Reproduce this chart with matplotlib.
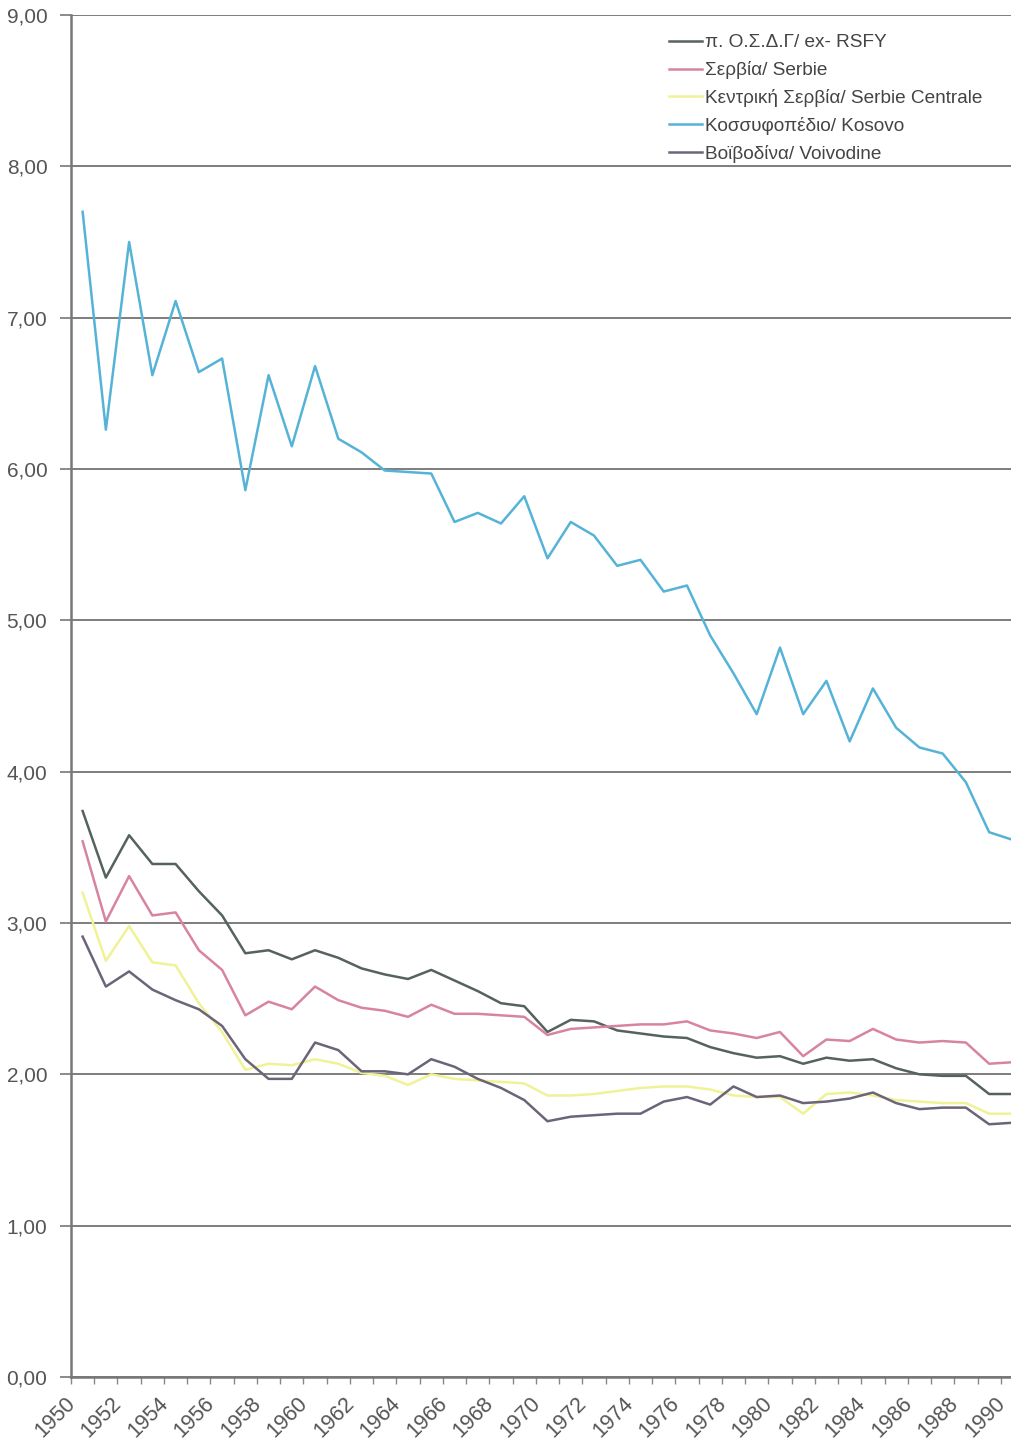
import matplotlib.pyplot as plt
from matplotlib.ticker import FixedLocator, FuncFormatter, NullFormatter
from matplotlib.transforms import blended_transform_factory, ScaledTranslation

# Total fertility rate by region, 1950-1990
years = list(range(1950, 1991))

rsfy = [3.74, 3.30, 3.58, 3.39, 3.39, 3.21, 3.05, 2.80, 2.82, 2.76,
        2.82, 2.77, 2.70, 2.66, 2.63, 2.69, 2.62, 2.55, 2.47, 2.45,
        2.28, 2.36, 2.35, 2.29, 2.27, 2.25, 2.24, 2.18, 2.14, 2.11,
        2.12, 2.07, 2.11, 2.09, 2.10, 2.04, 2.00, 1.99, 1.99, 1.87, 1.87]
serbia = [3.54, 3.01, 3.31, 3.05, 3.07, 2.82, 2.69, 2.39, 2.48, 2.43,
          2.58, 2.49, 2.44, 2.42, 2.38, 2.46, 2.40, 2.40, 2.39, 2.38,
          2.26, 2.30, 2.31, 2.32, 2.33, 2.33, 2.35, 2.29, 2.27, 2.24,
          2.28, 2.12, 2.23, 2.22, 2.30, 2.23, 2.21, 2.22, 2.21, 2.07, 2.08]
central = [3.20, 2.75, 2.98, 2.74, 2.72, 2.47, 2.28, 2.03, 2.07, 2.06,
           2.10, 2.07, 2.01, 1.99, 1.93, 2.00, 1.97, 1.96, 1.95, 1.94,
           1.86, 1.86, 1.87, 1.89, 1.91, 1.92, 1.92, 1.90, 1.86, 1.85,
           1.85, 1.74, 1.87, 1.88, 1.86, 1.83, 1.82, 1.81, 1.81, 1.74, 1.74]
kosovo = [7.70, 6.26, 7.50, 6.62, 7.11, 6.64, 6.73, 5.86, 6.62, 6.15,
          6.68, 6.20, 6.11, 5.99, 5.98, 5.97, 5.65, 5.71, 5.64, 5.82,
          5.41, 5.65, 5.56, 5.36, 5.40, 5.19, 5.23, 4.90, 4.65, 4.38,
          4.82, 4.38, 4.60, 4.20, 4.55, 4.29, 4.16, 4.12, 3.93, 3.60, 3.55]
vojvodina = [2.91, 2.58, 2.68, 2.56, 2.49, 2.43, 2.32, 2.10, 1.97, 1.97,
             2.21, 2.16, 2.02, 2.02, 2.00, 2.10, 2.05, 1.97, 1.91, 1.83,
             1.69, 1.72, 1.73, 1.74, 1.74, 1.82, 1.85, 1.80, 1.92, 1.85,
             1.86, 1.81, 1.82, 1.84, 1.88, 1.81, 1.77, 1.78, 1.78, 1.67, 1.68]

labels = ["π. Ο.Σ.Δ.Γ/ ex- RSFY", "Σερβία/ Serbie",
          "Κεντρική Σερβία/ Serbie Centrale", "Κοσσυφοπέδιο/ Kosovo",
          "Βοϊβοδίνα/ Voivodine"]
colors = ["#56625f", "#d8849f", "#f0f296", "#55b3d8", "#6c6479"]

plt.rcParams["font.family"] = ["Liberation Sans", "DejaVu Sans"]

fig = plt.figure(figsize=(10.12, 14.5), dpi=100)
# axes run slightly past the right edge, like the cropped original
ax = fig.add_axes([71 / 1012, 1 - 1377 / 1450, 953 / 1012, (1377 - 15) / 1450])

x = list(range(len(years)))
for series, lab, col in zip([rsfy, serbia, central, kosovo, vojvodina], labels, colors):
    ax.plot(x, series, color=col, lw=1.8, label=lab)

ax.set_xlim(-0.5, len(years) - 0.5)
ax.set_ylim(0, 9)

# y axis: gridlines at each integer, comma decimals
ax.yaxis.set_major_locator(FixedLocator(range(0, 10)))
ax.yaxis.set_major_formatter(FuncFormatter(lambda v, p: f"{v:.2f}".replace(".", ",")))
ax.yaxis.grid(True, color="#737373", lw=1.3)
ax.set_axisbelow(True)

# x axis: tick marks between categories, labels every second year
ax.xaxis.set_major_locator(FixedLocator([i - 0.5 for i in range(len(years) + 1)]))
ax.xaxis.set_major_formatter(NullFormatter())
ax.tick_params(axis="x", length=5, color="#888888", width=1)

# rotated year labels, anchored a bit left of each category centre
lab_tr = blended_transform_factory(ax.transData, ax.transAxes) + \
    ScaledTranslation(-18 / 100, -16 / 100, fig.dpi_scale_trans)
for i, yr in zip(x[::2], years[::2]):
    ax.text(i, 0, str(yr), transform=lab_tr, rotation=45, ha="right", va="top",
            rotation_mode="anchor", fontsize=15.5, color="#555555", clip_on=False)

ax.tick_params(axis="y", length=8, color="#777777", width=1.2, pad=9,
               labelsize=15, labelcolor="#555555")

for side in ["top", "right"]:
    ax.spines[side].set_visible(False)
for side in ["left", "bottom"]:
    ax.spines[side].set_color("#777777")
    ax.spines[side].set_linewidth(1.8)

fig.legend(loc="upper left", bbox_to_anchor=(669 / 1012, 1 - 34 / 1450),
           frameon=False, fontsize=13.7, handlelength=1.75, handletextpad=0.12,
           labelspacing=0.52, borderpad=0, borderaxespad=0, labelcolor="#444444")

fig.savefig("out.png", dpi=100)
